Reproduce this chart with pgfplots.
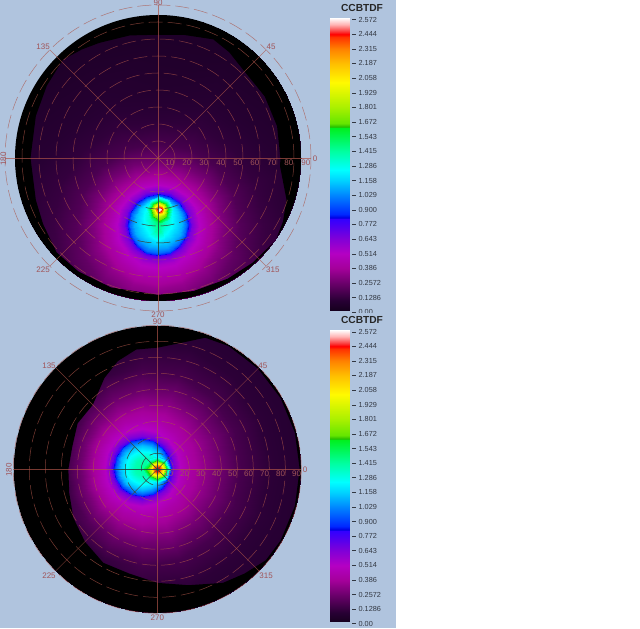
\documentclass[border=0pt]{standalone}
\usepackage{fontspec}
\setmainfont{Liberation Sans}
\usepackage{pgfplots}
\usepackage{pgfplotstable}
\pgfplotsset{compat=1.18}

\definecolor{panel}{RGB}{176,196,222}
\definecolor{gridred}{RGB}{172,84,72}
\definecolor{gridlab}{RGB}{160,84,88}
\definecolor{griddark}{RGB}{0,70,70}
\definecolor{barlab}{RGB}{50,55,65}

\pgfplotsset{
  colormap={ccb}{
    rgb255(0)=(18,0,26) rgb255(100)=(40,0,52) rgb255(257)=(108,0,108) rgb255(386)=(165,0,155)
    rgb255(514)=(180,0,195) rgb255(643)=(130,0,215) rgb255(772)=(70,0,245) rgb255(820)=(50,0,255)
    rgb255(830)=(0,0,225) rgb255(860)=(0,40,255) rgb255(1029)=(0,135,255) rgb255(1158)=(0,210,255)
    rgb255(1250)=(0,255,255) rgb255(1415)=(0,255,160) rgb255(1620)=(0,240,30) rgb255(1630)=(40,190,0)
    rgb255(1660)=(100,230,0) rgb255(1801)=(170,240,0) rgb255(2020)=(255,250,0) rgb255(2187)=(255,190,0)
    rgb255(2315)=(255,130,0) rgb255(2420)=(255,50,0) rgb255(2444)=(255,0,0) rgb255(2470)=(250,60,60)
    rgb255(2530)=(255,180,180) rgb255(2587)=(255,255,255)
  },
  heat/.style={surf,shader=interp,point meta=\thisrow{v}},
  disc/.style={hide axis,xmin=-97,xmax=97,ymin=-97,ymax=97,anchor=origin,
    point meta min=0,point meta max=2.587},
  cbar/.style={x=19.5pt,xmin=0,xmax=1.17,ymin=0,ymax=2.587,anchor=origin,
    axis x line=none,axis y line=right,axis line style={draw=none},
    point meta min=0,point meta max=2.587,
    tick align=outside,major tick length=3.5pt,tick style={barlab,line width=0.5pt},
    ytick={0,0.1286,0.2572,0.386,0.514,0.643,0.772,0.900,1.029,1.158,1.286,1.415,1.543,1.672,1.801,1.929,2.058,2.187,2.315,2.444,2.572},
    yticklabels={0.00,0.1286,0.2572,0.386,0.514,0.643,0.772,0.900,1.029,1.158,1.286,1.415,1.543,1.672,1.801,1.929,2.058,2.187,2.315,2.444,2.572},
    yticklabel style={font=\fontsize{7.3}{8}\selectfont,text=barlab,inner xsep=0pt,xshift=2.6pt,anchor=west}},
}

% black rim, angle and radius in degrees: the outer octagon then the inner edge backwards
\pgfplotstableread[row sep=\\]{
t r\\ 0 100\\ 45 100\\ 90 100\\ 135 100\\ 180 100\\ 225 100\\ 270 100\\ 315 100\\ 360 100\\
360 72\\ 356 72\\ 349 75\\ 342 79.5\\ 333 82.5\\ 325 84.5\\ 312 83\\ 300 82\\ 285 81\\ 270 80.5\\ 250 81\\ 235 81.5\\ 223 81.5\\ 210 78\\ 199 76\\ 180 75\\ 161 76\\ 147 78\\
134 80.5\\ 125 78\\ 117 76\\ 103 74\\ 90 72.5\\ 78 74\\ 65 77\\ 56 75\\ 48 72.5\\ 30 72.5\\ 15 72.5\\ 0 72\\
}\topblack
\pgfplotstableread[row sep=\\]{
t r\\ 0 100\\ 45 100\\ 90 100\\ 135 100\\ 180 100\\ 225 100\\ 270 100\\ 315 100\\ 360 100\\
360 89\\ 345 89\\ 330 89\\ 320 88.5\\ 310 85\\ 300 82\\ 285 75\\ 270 71\\ 255 67.5\\ 240 67.5\\ 225 64\\ 210 60.6\\ 195 57\\
180 55.6\\ 165 55\\ 150 57.5\\ 135 57\\ 120 66\\ 110 72\\ 100 76\\ 90 76\\ 80 80\\ 70 87.5\\ 60 89\\ 45 89\\ 30 89\\ 15 89\\ 0 89\\
}\botblack

% glow round the spot, upper disc
\pgfplotstableread[row sep=\\]{
phi rho v\\
0 0 1.48\\ 0 5 1.32\\ 0 10 1.20\\ 0 14 1.10\\ 0 16.5 .98\\ 0 17.8 .86\\ 0 18.6 .76\\ 0 20 .66\\ 0 24 .52\\ 0 30 .41\\ 0 38 .30\\ 0 48 .20\\ 0 62 .14\\ 0 80 .10\\ 0 110 .07\\ 0 150 .05\\
22.5 0 1.48\\ 22.5 5 1.36\\ 22.5 10 1.22\\ 22.5 14 1.12\\ 22.5 16.5 .98\\ 22.5 17.8 .86\\ 22.5 18.6 .76\\ 22.5 20 .66\\ 22.5 24 .52\\ 22.5 30 .40\\ 22.5 38 .29\\ 22.5 48 .19\\ 22.5 62 .13\\ 22.5 80 .10\\ 22.5 110 .07\\ 22.5 150 .05\\
45 0 1.48\\ 45 5 1.42\\ 45 10 1.28\\ 45 14 1.16\\ 45 16.5 .99\\ 45 17.8 .86\\ 45 18.6 .76\\ 45 20 .66\\ 45 24 .51\\ 45 30 .39\\ 45 38 .28\\ 45 48 .18\\ 45 62 .12\\ 45 80 .09\\ 45 110 .06\\ 45 150 .05\\
67.5 0 1.48\\ 67.5 5 1.50\\ 67.5 10 1.42\\ 67.5 14 1.22\\ 67.5 16.5 1.01\\ 67.5 17.8 .86\\ 67.5 18.6 .76\\ 67.5 20 .66\\ 67.5 24 .50\\ 67.5 30 .38\\ 67.5 38 .27\\ 67.5 48 .17\\ 67.5 62 .12\\ 67.5 80 .09\\ 67.5 110 .06\\ 67.5 150 .05\\
90 0 1.48\\ 90 5 1.58\\ 90 10 1.62\\ 90 14 1.32\\ 90 16.5 1.03\\ 90 17.8 .86\\ 90 18.6 .76\\ 90 20 .66\\ 90 24 .50\\ 90 30 .38\\ 90 38 .26\\ 90 48 .17\\ 90 62 .11\\ 90 80 .08\\ 90 110 .06\\ 90 150 .05\\
112.5 0 1.48\\ 112.5 5 1.50\\ 112.5 10 1.42\\ 112.5 14 1.22\\ 112.5 16.5 1.01\\ 112.5 17.8 .86\\ 112.5 18.6 .76\\ 112.5 20 .66\\ 112.5 24 .50\\ 112.5 30 .38\\ 112.5 38 .27\\ 112.5 48 .17\\ 112.5 62 .12\\ 112.5 80 .09\\ 112.5 110 .06\\ 112.5 150 .05\\
135 0 1.48\\ 135 5 1.42\\ 135 10 1.28\\ 135 14 1.16\\ 135 16.5 .99\\ 135 17.8 .86\\ 135 18.6 .76\\ 135 20 .66\\ 135 24 .51\\ 135 30 .39\\ 135 38 .28\\ 135 48 .18\\ 135 62 .12\\ 135 80 .09\\ 135 110 .06\\ 135 150 .05\\
157.5 0 1.48\\ 157.5 5 1.36\\ 157.5 10 1.22\\ 157.5 14 1.12\\ 157.5 16.5 .98\\ 157.5 17.8 .86\\ 157.5 18.6 .76\\ 157.5 20 .66\\ 157.5 24 .52\\ 157.5 30 .40\\ 157.5 38 .29\\ 157.5 48 .19\\ 157.5 62 .13\\ 157.5 80 .10\\ 157.5 110 .07\\ 157.5 150 .05\\
180 0 1.48\\ 180 5 1.32\\ 180 10 1.20\\ 180 14 1.10\\ 180 16.5 .98\\ 180 17.8 .86\\ 180 18.6 .76\\ 180 20 .66\\ 180 24 .52\\ 180 30 .41\\ 180 38 .30\\ 180 48 .20\\ 180 62 .14\\ 180 80 .10\\ 180 110 .07\\ 180 150 .05\\
202.5 0 1.48\\ 202.5 5 1.30\\ 202.5 10 1.18\\ 202.5 14 1.10\\ 202.5 16.5 .98\\ 202.5 17.8 .86\\ 202.5 18.6 .76\\ 202.5 20 .66\\ 202.5 24 .53\\ 202.5 30 .43\\ 202.5 38 .32\\ 202.5 48 .23\\ 202.5 62 .16\\ 202.5 80 .11\\ 202.5 110 .07\\ 202.5 150 .05\\
225 0 1.48\\ 225 5 1.30\\ 225 10 1.18\\ 225 14 1.08\\ 225 16.5 .98\\ 225 17.8 .86\\ 225 18.6 .76\\ 225 20 .66\\ 225 24 .53\\ 225 30 .44\\ 225 38 .34\\ 225 48 .25\\ 225 62 .17\\ 225 80 .11\\ 225 110 .07\\ 225 150 .05\\
247.5 0 1.48\\ 247.5 5 1.38\\ 247.5 10 1.18\\ 247.5 14 1.08\\ 247.5 16.5 .97\\ 247.5 17.8 .86\\ 247.5 18.6 .76\\ 247.5 20 .66\\ 247.5 24 .54\\ 247.5 30 .45\\ 247.5 38 .35\\ 247.5 48 .26\\ 247.5 62 .18\\ 247.5 80 .12\\ 247.5 110 .07\\ 247.5 150 .05\\
270 0 1.48\\ 270 5 1.42\\ 270 10 1.20\\ 270 14 1.08\\ 270 16.5 .97\\ 270 17.8 .86\\ 270 18.6 .76\\ 270 20 .66\\ 270 24 .54\\ 270 30 .45\\ 270 38 .35\\ 270 48 .26\\ 270 62 .18\\ 270 80 .12\\ 270 110 .07\\ 270 150 .05\\
292.5 0 1.48\\ 292.5 5 1.38\\ 292.5 10 1.18\\ 292.5 14 1.08\\ 292.5 16.5 .97\\ 292.5 17.8 .86\\ 292.5 18.6 .76\\ 292.5 20 .66\\ 292.5 24 .54\\ 292.5 30 .45\\ 292.5 38 .35\\ 292.5 48 .26\\ 292.5 62 .18\\ 292.5 80 .12\\ 292.5 110 .07\\ 292.5 150 .05\\
315 0 1.48\\ 315 5 1.30\\ 315 10 1.18\\ 315 14 1.08\\ 315 16.5 .98\\ 315 17.8 .86\\ 315 18.6 .76\\ 315 20 .66\\ 315 24 .53\\ 315 30 .44\\ 315 38 .34\\ 315 48 .25\\ 315 62 .17\\ 315 80 .11\\ 315 110 .07\\ 315 150 .05\\
337.5 0 1.48\\ 337.5 5 1.30\\ 337.5 10 1.18\\ 337.5 14 1.10\\ 337.5 16.5 .98\\ 337.5 17.8 .86\\ 337.5 18.6 .76\\ 337.5 20 .66\\ 337.5 24 .53\\ 337.5 30 .43\\ 337.5 38 .32\\ 337.5 48 .23\\ 337.5 62 .16\\ 337.5 80 .11\\ 337.5 110 .07\\ 337.5 150 .05\\
360 0 1.48\\ 360 5 1.32\\ 360 10 1.20\\ 360 14 1.10\\ 360 16.5 .98\\ 360 17.8 .86\\ 360 18.6 .76\\ 360 20 .66\\ 360 24 .52\\ 360 30 .41\\ 360 38 .30\\ 360 48 .20\\ 360 62 .14\\ 360 80 .10\\ 360 110 .07\\ 360 150 .05\\
}\topglow

% peak, upper disc
\pgfplotstableread[row sep=\\]{
phi rho v\\
0 0 2.58\\ 0 .7 2.55\\ 0 1.3 2.44\\ 0 2 2.30\\ 0 3 2.02\\ 0 4.7 1.68\\ 0 8 1.24\\
45 0 2.58\\ 45 .7 2.55\\ 45 1.3 2.44\\ 45 2 2.30\\ 45 3 2.02\\ 45 4.7 1.66\\ 45 8 1.16\\
90 0 2.58\\ 90 .7 2.55\\ 90 1.3 2.44\\ 90 2 2.30\\ 90 3 2.02\\ 90 4.7 1.60\\ 90 8 1.10\\
135 0 2.58\\ 135 .7 2.55\\ 135 1.3 2.44\\ 135 2 2.30\\ 135 3 2.02\\ 135 4.7 1.66\\ 135 8 1.16\\
180 0 2.58\\ 180 .7 2.55\\ 180 1.3 2.44\\ 180 2 2.30\\ 180 3 2.02\\ 180 4.7 1.68\\ 180 8 1.24\\
225 0 2.58\\ 225 .7 2.55\\ 225 1.3 2.44\\ 225 2 2.30\\ 225 3 2.02\\ 225 4.7 1.74\\ 225 8 1.38\\
270 0 2.58\\ 270 .7 2.55\\ 270 1.3 2.44\\ 270 2 2.30\\ 270 3 2.02\\ 270 4.7 1.80\\ 270 8 1.55\\
315 0 2.58\\ 315 .7 2.55\\ 315 1.3 2.44\\ 315 2 2.30\\ 315 3 2.02\\ 315 4.7 1.74\\ 315 8 1.38\\
360 0 2.58\\ 360 .7 2.55\\ 360 1.3 2.44\\ 360 2 2.30\\ 360 3 2.02\\ 360 4.7 1.68\\ 360 8 1.24\\
}\toppeak

% glow round the spot, lower disc
\pgfplotstableread[row sep=\\]{
phi rho v\\
0 0 1.42\\ 0 5 1.52\\ 0 10 1.62\\ 0 14 1.28\\ 0 16.5 1.00\\ 0 17.8 .86\\ 0 18.6 .76\\ 0 20 .66\\ 0 24 .50\\ 0 30 .42\\ 0 38 .35\\ 0 48 .27\\ 0 62 .17\\ 0 80 .11\\ 0 110 .08\\ 0 150 .05\\
22.5 0 1.42\\ 22.5 5 1.48\\ 22.5 10 1.42\\ 22.5 14 1.18\\ 22.5 16.5 .98\\ 22.5 17.8 .86\\ 22.5 18.6 .76\\ 22.5 20 .66\\ 22.5 24 .50\\ 22.5 30 .42\\ 22.5 38 .35\\ 22.5 48 .27\\ 22.5 62 .17\\ 22.5 80 .11\\ 22.5 110 .08\\ 22.5 150 .05\\
45 0 1.42\\ 45 5 1.42\\ 45 10 1.30\\ 45 14 1.13\\ 45 16.5 .97\\ 45 17.8 .86\\ 45 18.6 .76\\ 45 20 .66\\ 45 24 .51\\ 45 30 .43\\ 45 38 .36\\ 45 48 .27\\ 45 62 .17\\ 45 80 .11\\ 45 110 .08\\ 45 150 .05\\
67.5 0 1.42\\ 67.5 5 1.40\\ 67.5 10 1.28\\ 67.5 14 1.12\\ 67.5 16.5 .97\\ 67.5 17.8 .86\\ 67.5 18.6 .76\\ 67.5 20 .66\\ 67.5 24 .52\\ 67.5 30 .44\\ 67.5 38 .37\\ 67.5 48 .28\\ 67.5 62 .17\\ 67.5 80 .11\\ 67.5 110 .08\\ 67.5 150 .05\\
90 0 1.42\\ 90 5 1.38\\ 90 10 1.26\\ 90 14 1.11\\ 90 16.5 .97\\ 90 17.8 .86\\ 90 18.6 .76\\ 90 20 .66\\ 90 24 .52\\ 90 30 .44\\ 90 38 .36\\ 90 48 .26\\ 90 62 .16\\ 90 80 .10\\ 90 110 .07\\ 90 150 .05\\
112.5 0 1.42\\ 112.5 5 1.38\\ 112.5 10 1.25\\ 112.5 14 1.11\\ 112.5 16.5 .97\\ 112.5 17.8 .86\\ 112.5 18.6 .76\\ 112.5 20 .66\\ 112.5 24 .52\\ 112.5 30 .43\\ 112.5 38 .34\\ 112.5 48 .24\\ 112.5 62 .13\\ 112.5 80 .08\\ 112.5 110 .06\\ 112.5 150 .05\\
135 0 1.42\\ 135 5 1.38\\ 135 10 1.25\\ 135 14 1.11\\ 135 16.5 .97\\ 135 17.8 .86\\ 135 18.6 .76\\ 135 20 .66\\ 135 24 .52\\ 135 30 .42\\ 135 38 .31\\ 135 48 .20\\ 135 62 .10\\ 135 80 .07\\ 135 110 .05\\ 135 150 .05\\
157.5 0 1.42\\ 157.5 5 1.38\\ 157.5 10 1.25\\ 157.5 14 1.11\\ 157.5 16.5 .97\\ 157.5 17.8 .86\\ 157.5 18.6 .76\\ 157.5 20 .66\\ 157.5 24 .51\\ 157.5 30 .41\\ 157.5 38 .28\\ 157.5 48 .16\\ 157.5 62 .08\\ 157.5 80 .06\\ 157.5 110 .05\\ 157.5 150 .05\\
180 0 1.42\\ 180 5 1.38\\ 180 10 1.25\\ 180 14 1.11\\ 180 16.5 .97\\ 180 17.8 .86\\ 180 18.6 .76\\ 180 20 .66\\ 180 24 .50\\ 180 30 .40\\ 180 38 .27\\ 180 48 .15\\ 180 62 .08\\ 180 80 .06\\ 180 110 .05\\ 180 150 .05\\
202.5 0 1.42\\ 202.5 5 1.38\\ 202.5 10 1.25\\ 202.5 14 1.11\\ 202.5 16.5 .97\\ 202.5 17.8 .86\\ 202.5 18.6 .76\\ 202.5 20 .66\\ 202.5 24 .51\\ 202.5 30 .41\\ 202.5 38 .28\\ 202.5 48 .16\\ 202.5 62 .08\\ 202.5 80 .06\\ 202.5 110 .05\\ 202.5 150 .05\\
225 0 1.42\\ 225 5 1.38\\ 225 10 1.25\\ 225 14 1.11\\ 225 16.5 .97\\ 225 17.8 .86\\ 225 18.6 .76\\ 225 20 .66\\ 225 24 .52\\ 225 30 .42\\ 225 38 .31\\ 225 48 .20\\ 225 62 .10\\ 225 80 .07\\ 225 110 .05\\ 225 150 .05\\
247.5 0 1.42\\ 247.5 5 1.38\\ 247.5 10 1.25\\ 247.5 14 1.11\\ 247.5 16.5 .97\\ 247.5 17.8 .86\\ 247.5 18.6 .76\\ 247.5 20 .66\\ 247.5 24 .52\\ 247.5 30 .43\\ 247.5 38 .34\\ 247.5 48 .24\\ 247.5 62 .13\\ 247.5 80 .08\\ 247.5 110 .06\\ 247.5 150 .05\\
270 0 1.42\\ 270 5 1.38\\ 270 10 1.26\\ 270 14 1.11\\ 270 16.5 .97\\ 270 17.8 .86\\ 270 18.6 .76\\ 270 20 .66\\ 270 24 .52\\ 270 30 .44\\ 270 38 .36\\ 270 48 .26\\ 270 62 .16\\ 270 80 .10\\ 270 110 .07\\ 270 150 .05\\
292.5 0 1.42\\ 292.5 5 1.40\\ 292.5 10 1.28\\ 292.5 14 1.12\\ 292.5 16.5 .97\\ 292.5 17.8 .86\\ 292.5 18.6 .76\\ 292.5 20 .66\\ 292.5 24 .52\\ 292.5 30 .44\\ 292.5 38 .37\\ 292.5 48 .28\\ 292.5 62 .17\\ 292.5 80 .11\\ 292.5 110 .08\\ 292.5 150 .05\\
315 0 1.42\\ 315 5 1.42\\ 315 10 1.30\\ 315 14 1.13\\ 315 16.5 .97\\ 315 17.8 .86\\ 315 18.6 .76\\ 315 20 .66\\ 315 24 .51\\ 315 30 .43\\ 315 38 .36\\ 315 48 .27\\ 315 62 .17\\ 315 80 .11\\ 315 110 .08\\ 315 150 .05\\
337.5 0 1.42\\ 337.5 5 1.48\\ 337.5 10 1.42\\ 337.5 14 1.18\\ 337.5 16.5 .98\\ 337.5 17.8 .86\\ 337.5 18.6 .76\\ 337.5 20 .66\\ 337.5 24 .50\\ 337.5 30 .42\\ 337.5 38 .35\\ 337.5 48 .27\\ 337.5 62 .17\\ 337.5 80 .11\\ 337.5 110 .08\\ 337.5 150 .05\\
360 0 1.42\\ 360 5 1.52\\ 360 10 1.62\\ 360 14 1.28\\ 360 16.5 1.00\\ 360 17.8 .86\\ 360 18.6 .76\\ 360 20 .66\\ 360 24 .50\\ 360 30 .42\\ 360 38 .35\\ 360 48 .27\\ 360 62 .17\\ 360 80 .11\\ 360 110 .08\\ 360 150 .05\\
}\botglow

% peak, lower disc
\pgfplotstableread[row sep=\\]{
phi rho v\\
0 0 2.44\\ 0 1.5 2.44\\ 0 2.5 2.30\\ 0 3.5 2.10\\ 0 4.8 1.85\\ 0 6 1.55\\ 0 8.5 .92\\
45 0 2.44\\ 45 1.5 2.44\\ 45 2.5 2.30\\ 45 3.5 2.10\\ 45 4.8 1.85\\ 45 6 1.60\\ 45 8.5 1.05\\
90 0 2.44\\ 90 1.5 2.44\\ 90 2.5 2.30\\ 90 3.5 2.10\\ 90 4.8 1.85\\ 90 6 1.62\\ 90 8.5 1.15\\
135 0 2.44\\ 135 1.5 2.44\\ 135 2.5 2.30\\ 135 3.5 2.10\\ 135 4.8 1.85\\ 135 6 1.65\\ 135 8.5 1.30\\
180 0 2.44\\ 180 1.5 2.44\\ 180 2.5 2.30\\ 180 3.5 2.10\\ 180 4.8 1.85\\ 180 6 1.70\\ 180 8.5 1.55\\
225 0 2.44\\ 225 1.5 2.44\\ 225 2.5 2.30\\ 225 3.5 2.10\\ 225 4.8 1.85\\ 225 6 1.65\\ 225 8.5 1.30\\
270 0 2.44\\ 270 1.5 2.44\\ 270 2.5 2.30\\ 270 3.5 2.10\\ 270 4.8 1.85\\ 270 6 1.62\\ 270 8.5 1.15\\
315 0 2.44\\ 315 1.5 2.44\\ 315 2.5 2.30\\ 315 3.5 2.10\\ 315 4.8 1.85\\ 315 6 1.60\\ 315 8.5 1.05\\
360 0 2.44\\ 360 1.5 2.44\\ 360 2.5 2.30\\ 360 3.5 2.10\\ 360 4.8 1.85\\ 360 6 1.55\\ 360 8.5 .92\\
}\botpeak

\pgfplotstableread[row sep=\\]{
x y\\ 0 0.0176\\ 1 0.0176\\ 0 2.587\\ 1 2.587\\
}\barcells

% rings and spokes, drawn in axis units (degrees)
\newcommand{\polargrid}[1]{%
  \pgfplotsinvokeforeach{10,20,...,90}{\draw[#1,line width=0.5pt,dash pattern=on 14pt off 5pt] (axis cs:0,0) circle[radius=##1];}%
  \draw[#1,line width=0.4pt] (axis cs:-90,0)--(axis cs:90,0);
  \draw[#1,line width=0.4pt] (axis cs:0,-90)--(axis cs:0,90);
  \draw[#1,line width=0.4pt] (axis cs:-63.6,-63.6)--(axis cs:63.6,63.6);
  \draw[#1,line width=0.4pt] (axis cs:-63.6,63.6)--(axis cs:63.6,-63.6);
}
\newcommand{\ringlabels}{%
  \pgfplotsinvokeforeach{10,20,...,90}{\node[lab] at (axis cs:##1-3,-3) {##1};}%
}

\begin{document}
\begin{tikzpicture}[lab/.style={font=\fontsize{8}{9}\selectfont,text=gridlab,inner sep=0pt}]
\useasboundingbox (0,0) rectangle (640pt,629pt);
\fill[panel] (0,1pt) rectangle (396pt,629pt);

% upper disc
\begin{scope}
\clip (158pt,471pt) circle (143pt);
\begin{axis}[disc,x=1.7pt,y=1.7pt,at={(158pt,471pt)}]
  \addplot[heat,mesh/cols=16] table[x expr={\thisrow{rho}*cos(\thisrow{phi})},y expr={-39.2+\thisrow{rho}*sin(\thisrow{phi})}] {\topglow};
  \addplot[heat,mesh/cols=7] table[x expr={0.8+\thisrow{rho}*cos(\thisrow{phi})},y expr={-30.2+\thisrow{rho}*sin(\thisrow{phi})}] {\toppeak};
  \addplot[fill=black,draw=none] table[x expr={\thisrow{r}*cos(\thisrow{t})},y expr={\thisrow{r}*sin(\thisrow{t})}] {\topblack};
\end{axis}
\end{scope}
\begin{axis}[disc,x=1.7pt,y=1.7pt,at={(158pt,471pt)},clip=false]
  \polargrid{gridred,opacity=.7}
  \begin{scope}
    \clip (axis cs:0,-39.2) circle[radius=18];
    \polargrid{griddark,opacity=.75}
  \end{scope}
  \ringlabels
  \node[lab] at (axis cs:0,91.2) {90};
  \node[lab] at (axis cs:92.4,-0.5) {0};
  \node[lab,rotate=90] at (axis cs:-91,-0.5) {180};
  \node[lab] at (axis cs:66.5,65.3) {45};
  \node[lab] at (axis cs:-67.6,65.3) {135};
  \node[lab] at (axis cs:-67.6,-65.9) {225};
  \node[lab] at (axis cs:67.6,-65.9) {315};
  \node[lab] at (axis cs:0,-92) {270};
\end{axis}

% upper scale
\begin{axis}[cbar,y=113.8pt,at={(329.5pt,316.7pt)}]
  \addplot[surf,shader=interp,mesh/cols=2,point meta=y] table[x=x,y=y] {\barcells};
\end{axis}
\node[font=\fontsize{10.2}{11}\bfseries,text=black!85] at (362pt,621pt) {CCBTDF};

% the lower scale sits over the end of the upper one
\fill[panel] (325pt,299pt) rectangle (396pt,316pt);

% lower disc
\begin{scope}
\clip (157.3pt,159.7pt) circle (143.5pt);
\begin{axis}[disc,x=1.6pt,y=1.6pt,at={(157.3pt,159.7pt)}]
  \addplot[heat,mesh/cols=16] table[x expr={-9.5+\thisrow{rho}*cos(\thisrow{phi})},y expr={1+\thisrow{rho}*sin(\thisrow{phi})}] {\botglow};
  \addplot[heat,mesh/cols=7] table[x expr={\thisrow{rho}*cos(\thisrow{phi})},y expr={\thisrow{rho}*sin(\thisrow{phi})}] {\botpeak};
  \addplot[fill=black,draw=none] table[x expr={\thisrow{r}*cos(\thisrow{t})},y expr={\thisrow{r}*sin(\thisrow{t})}] {\botblack};
\end{axis}
\end{scope}
\begin{axis}[disc,x=1.6pt,y=1.6pt,at={(157.3pt,159.7pt)},clip=false]
  \polargrid{gridred,opacity=.7}
  \begin{scope}
    \clip (axis cs:-9.5,1) circle[radius=18];
    \polargrid{griddark,opacity=.75}
  \end{scope}
  \ringlabels
  \node[lab] at (axis cs:0,92) {90};
  \node[lab] at (axis cs:92.3,-0.5) {0};
  \node[lab,rotate=90] at (axis cs:-92.7,-0.5) {180};
  \node[lab] at (axis cs:66,64.6) {45};
  \node[lab] at (axis cs:-67.7,64.6) {135};
  \node[lab] at (axis cs:-67.7,-66.7) {225};
  \node[lab] at (axis cs:68,-66.7) {315};
  \node[lab] at (axis cs:0,-93) {270};
\end{axis}

% lower scale
\begin{axis}[cbar,y=113.5pt,at={(329.5pt,5.3pt)}]
  \addplot[surf,shader=interp,mesh/cols=2,point meta=y] table[x=x,y=y] {\barcells};
\end{axis}
\node[font=\fontsize{10.2}{11}\bfseries,text=black!85] at (362pt,308.7pt) {CCBTDF};
\end{tikzpicture}
\end{document}
